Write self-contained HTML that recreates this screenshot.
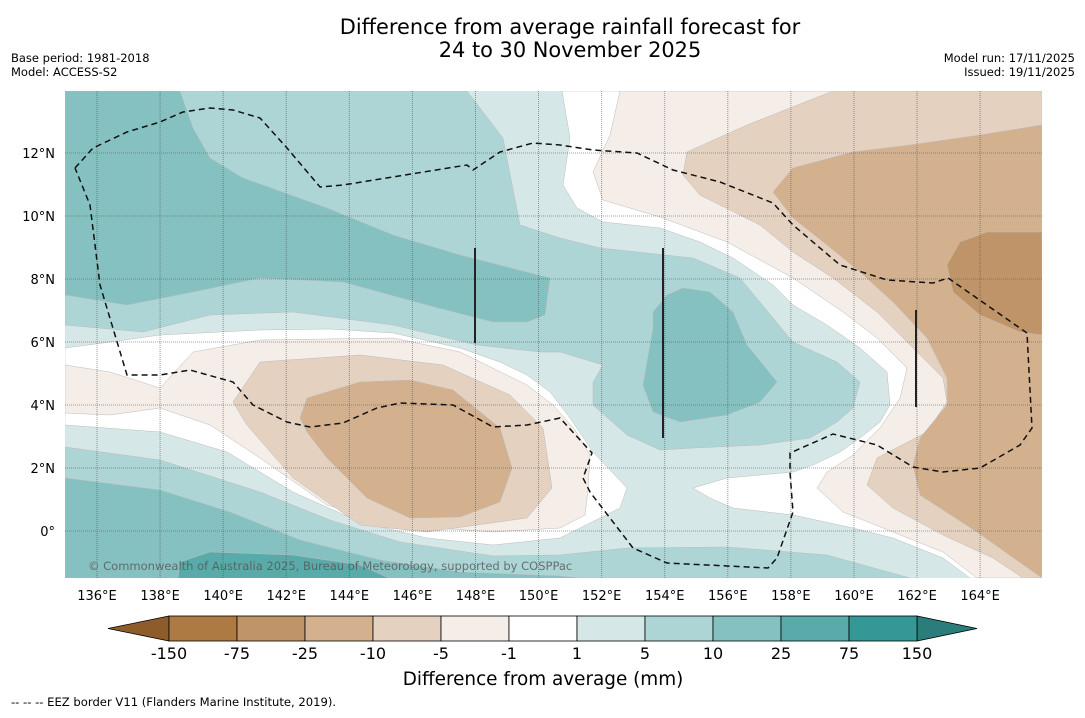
<!DOCTYPE html>
<html><head><meta charset="utf-8">
<style>
html,body{margin:0;padding:0;background:#fff;}
body{width:1085px;height:713px;overflow:hidden;font-family:"Liberation Sans","DejaVu Sans",sans-serif;}
svg text{font-family:"DejaVu Sans","Liberation Sans",sans-serif;}
</style></head>
<body>
<svg id="chart" width="1085" height="713" viewBox="0 0 1085 713" xmlns="http://www.w3.org/2000/svg">
<rect width="1085" height="713" fill="#fff"/>
<text x="570" y="34" font-size="20.9" text-anchor="middle" fill="#000">Difference from average rainfall forecast for</text>
<text x="570" y="57" font-size="20.9" text-anchor="middle" fill="#000">24 to 30 November 2025</text>
<text x="11" y="62" font-size="11.5">Base period: 1981-2018</text>
<text x="11" y="76" font-size="11.5">Model: ACCESS-S2</text>
<text x="1075" y="62" font-size="11.5" text-anchor="end">Model run: 17/11/2025</text>
<text x="1075" y="76" font-size="11.5" text-anchor="end">Issued: 19/11/2025</text>
<defs><clipPath id="pc"><rect x="65" y="91" width="977" height="487"/></clipPath></defs>
<g id="map" clip-path="url(#pc)" stroke="#bbb" stroke-width="0.5" stroke-linejoin="round">
<rect x="65" y="91" width="977" height="487" fill="#d5e8e7" stroke="none"/>
<polygon fill="#fff" points="65,348 103,343 160,335 260,330 330,329 393,333 460,348 500,362 527,375 550,392 560,405 570,418 593,452 627,488 620,508 560,538 493,545 427,538 360,522 293,492 227,452 160,432 65,425"/>
<polygon fill="#fff" points="562,91 1042,91 1042,578 970,578 943,558 893,538 853,528 793,515 733,508 710,498 693,488 727,478 760,475 793,472 813,465 840,452 860,438 880,422 890,405 887,372 860,348 827,325 793,305 773,285 733,258 700,242 660,228 603,222 577,208 563,185 570,138"/>
<polygon fill="#f4ede8" points="65,365 110,372 160,388 193,352 260,340 393,338 460,352 527,385 553,405 575,430 590,455 588,490 585,515 560,528 493,532 393,525 327,505 260,458 210,425 160,408 110,415 65,413"/>
<polygon fill="#e4d1c0" points="233,402 260,362 360,355 443,365 510,395 543,428 552,488 527,518 427,532 360,525 293,478 247,425"/>
<polygon fill="#d3b18f" points="300,418 307,398 360,382 410,380 453,390 500,428 512,468 500,502 460,517 410,518 367,498 327,458 307,432"/>
<polygon fill="#f4ede8" points="620,91 1042,91 1042,578 977,578 943,552 893,532 843,512 817,488 827,472 853,455 880,428 900,398 907,368 877,338 843,312 793,278 727,242 660,217 603,200 593,172 610,135"/>
<polygon fill="#e4d1c0" points="833,91 1042,91 1042,578 1023,578 993,558 943,535 893,508 867,485 877,458 927,432 947,402 943,378 913,348 877,312 833,278 793,252 760,225 700,195 683,175 687,152 747,125"/>
<polygon fill="#d3b18f" points="1042,125 980,135 910,145 853,152 793,168 773,192 793,218 827,245 860,272 893,302 927,338 947,378 947,405 920,438 913,465 920,495 977,532 1042,578"/>
<polygon fill="#bf9468" points="1042,232 987,232 960,242 947,265 953,292 980,315 1020,332 1042,335"/>
<polygon fill="#add5d5" points="65,91 467,91 503,138 520,225 560,238 600,248 693,258 740,278 773,318 793,342 837,362 860,382 853,408 837,422 810,438 760,445 693,448 660,450 627,435 593,405 593,382 603,365 560,352 540,352 477,345 393,325 293,312 210,315 143,332 65,325"/>
<polygon fill="#85c1c0" points="65,91 180,91 193,128 210,158 243,178 327,208 393,235 460,255 550,278 545,315 527,322 493,322 427,305 343,282 260,278 193,292 127,305 65,295"/>
<polygon fill="#85c1c0" points="683,288 710,292 733,312 747,345 777,382 760,402 727,415 680,422 653,412 643,385 653,328 653,312 667,295"/>
<polygon fill="#add5d5" points="65,447 160,460 260,492 330,520 400,542 493,556 560,555 627,548 727,547 827,555 910,578 65,578"/>
<polygon fill="#85c1c0" points="65,478 160,490 230,512 300,540 380,560 460,572 560,576 600,580 65,580"/>
<polygon fill="#59abaa" points="178,580 180,562 210,552 293,555 360,565 393,580"/>
</g>
<g id="grid" clip-path="url(#pc)"></g>
<g stroke="#222" stroke-width="2">
<line x1="475" y1="248" x2="475" y2="343"/><line x1="663" y1="248" x2="663" y2="438"/><line x1="916" y1="310" x2="916" y2="407"/>
</g>
<polyline fill="none" stroke="#111" stroke-width="1.5" stroke-dasharray="6,4" points="75,168 93,148 127,132 160,122 183,112 210,108 233,110 260,118 287,148 320,187 343,185 467,165 473,170 500,152 533,143 560,145 593,150 637,153 673,170 720,182 773,203 793,225 840,265 887,280 933,283 948,278 1027,333 1032,428 1020,445 980,468 943,472 913,467 877,445 833,434 790,453 790,472 793,512 777,558 768,568 667,563 633,548 590,492 583,478 592,453 560,418 527,425 493,427 453,405 400,403 377,408 343,423 310,427 287,422 253,405 233,382 190,370 160,375 127,375 100,285 90,205 75,168"/>
<text x="88" y="570" font-size="11.5" fill="#555" fill-opacity="0.8">© Commonwealth of Australia 2025, Bureau of Meteorology, supported by COSPPac</text>
<g id="xticks"></g>
<g id="yticks"></g>
<g id="cbar"></g>
<text x="543" y="685" font-size="18.4" text-anchor="middle">Difference from average (mm)</text>
<text x="11" y="706" font-size="11.6">--  --  -- EEZ border V11 (Flanders Marine Institute, 2019).</text>
</svg>
<script>
const lonTicks=[136,138,140,142,144,146,148,150,152,154,156,158,160,162,164];
const latTicks=[0,2,4,6,8,10,12];
const levelLabels=["-150","-75","-25","-10","-5","-1","1","5","10","25","75","150"];
const levelColors=["#ae7a43","#bf9468","#d3b18f","#e4d1c0","#f4ede8","#ffffff","#d5e8e7","#add5d5","#85c1c0","#59abaa","#339896"];
const NS="http://www.w3.org/2000/svg";
const xs=lon=>97+(lon-136)*31.54;
const ys=lat=>531-lat*31.5;
function mk(t,a,p){const e=document.createElementNS(NS,t);for(const k in a)e.setAttribute(k,a[k]);p.appendChild(e);return e;}
const grid=document.getElementById('grid'),xt=document.getElementById('xticks'),yt=document.getElementById('yticks');
lonTicks.forEach(l=>{
 const ln=mk('line',{x1:xs(l),x2:xs(l),y1:91,y2:578,stroke:'#555','stroke-opacity':0.6,'stroke-width':1,'stroke-dasharray':'1,1'},grid);
 
 
 const t=mk('text',{x:xs(l),y:600,'font-size':13,'text-anchor':'middle'},xt);t.textContent=l+'°E';
 
 
});
latTicks.forEach(l=>{
 const ln=mk('line',{x1:65,x2:1042,y1:ys(l),y2:ys(l),stroke:'#555','stroke-opacity':0.55,'stroke-width':1,'stroke-dasharray':'1,1'},grid);
 
 
 const t=mk('text',{x:55,y:ys(l)+5,'font-size':13,'text-anchor':'end'},yt);t.textContent=l===0?'0°':l+'°N';
 
 
});
const cb=document.getElementById('cbar');const bx=169,bw=68,by=616,bh=25;
const la=mk('polygon',{points:`108,${by+bh/2} ${bx},${by} ${bx},${by+bh}`,fill:'#8e5c2b',stroke:'#000','stroke-width':0.8},cb);


const re=bx+bw*levelColors.length;
const ra=mk('polygon',{points:`${re},${by} ${re},${by+bh} 977,${by+bh/2}`,fill:'#2a7d7a',stroke:'#000','stroke-width':0.8},cb);


levelColors.forEach((c,i)=>{
 const r=mk('rect',{x:bx+i*bw,y:by,width:bw,height:bh,fill:c,stroke:'#000','stroke-width':0.8},cb);
 
 
});
levelLabels.forEach((s,i)=>{
 const t=mk('text',{x:bx+i*bw,y:659,'font-size':16,'text-anchor':'middle'},cb);t.textContent=s;
 
 
});
</script>
</body></html>
